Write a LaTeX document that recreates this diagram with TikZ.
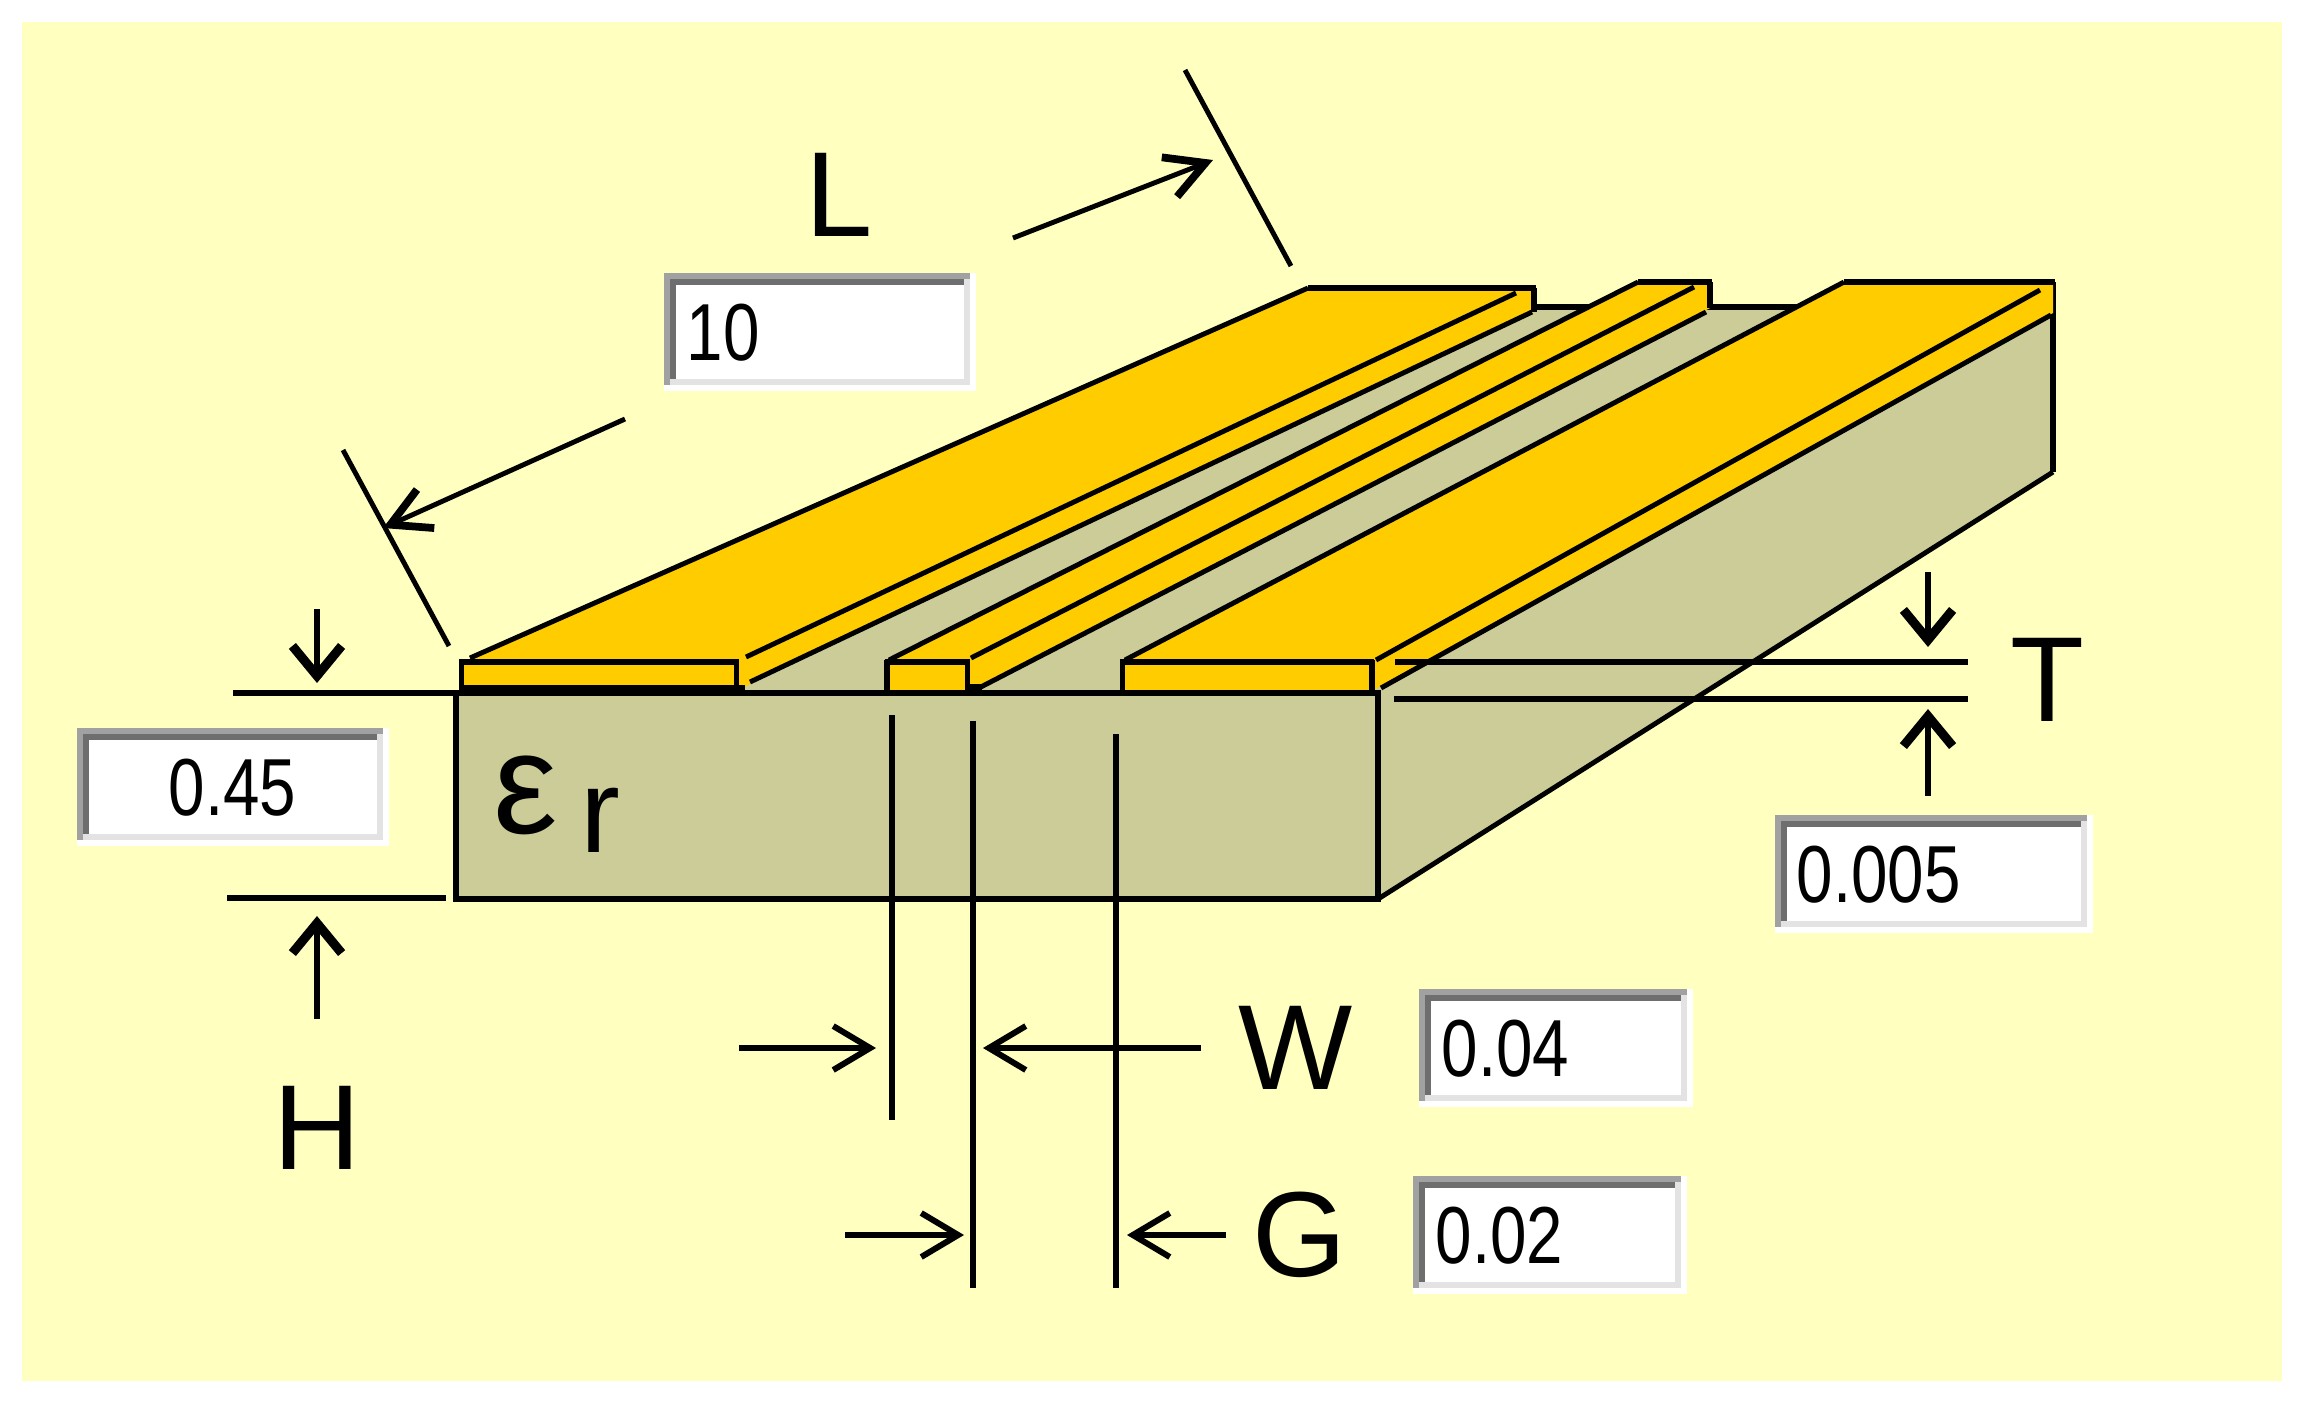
\documentclass[tikz,border=0pt]{standalone}
\usepackage{fontspec}
\setmainfont{Liberation Sans}
\usetikzlibrary{arrows.meta}

\definecolor{panelyellow}{HTML}{FFFFBF}
\definecolor{stripgold}{HTML}{FFCC00}
\definecolor{substrate}{HTML}{CCCC99}

\tikzset{
  hline/.style={line width=1.7pt},
  vline/.style={line width=1.6pt},
  dline/.style={line width=1.4pt},
  dimline/.style={line width=1.7pt,->},
  heavydim/.style={line width=1.7pt,-{Straight Barb[length=8.5pt,width=14pt,line width=2.6pt]}},
  slantdim/.style={line width=1.4pt,-{Straight Barb[length=11pt,width=12pt,line width=2.2pt]}},
  biglabel/.style={inner sep=0pt,anchor=base west,font=\fontsize{34.4pt}{36pt}\selectfont},
  numlabel/.style={inner sep=0pt,anchor=base west,font=\fontsize{23pt}{25pt}\selectfont},
}

% input field: name, x, y, width, text offset, text
\newcommand{\valuefield}[6]{
  \begin{scope}[shift={(#2,#3)}]
    \fill[white] (0,0) rectangle (#4,118);
    \fill[black!37] (0,0) rectangle (#4-6,112);
    \fill[black!11] (6,6) rectangle (#4-6,112);
    \fill[black!57] (6,6) rectangle (#4-12,106);
    \fill[white] (12,12) rectangle (#4-12,106);
    \node[numlabel] (#1) at (#5,87) {\scalebox{0.81}[1]{#6}};
  \end{scope}
}

\begin{document}
\begin{tikzpicture}[x=0.01cm,y=-0.01cm,>={Straight Barb[length=10.5pt,width=12.5pt,line width=1.7pt]}]

  \useasboundingbox (0,0) rectangle (2305,1411);
  \fill[white] (0,0) rectangle (2305,1411);
  \fill[panelyellow] (22,22) rectangle (2282,1381);

  % Substrate
  \fill[substrate] (700,693) -- (1500,307) -- (2053,307) -- (2053,472) -- (1378,899) -- (1378,693) -- cycle;
  \fill[substrate] (456,693) rectangle (1378,899);
  \draw[hline] (1536,307) -- (1804,307);
  \draw[vline] (2053,282) -- (2053,472);
  \draw[dline] (2053,472) -- (1378,899);

  % Strips
  \fill[stripgold] (461,662) -- (472,658) -- (1308,288) -- (1534,288) -- (1534,312) -- (750,684) -- (739,690) -- (461,690) -- cycle;
  \fill[stripgold] (887,662) -- (1638,282) -- (1710,282) -- (1710,308) -- (985,682) -- (970,690) -- (887,690) -- cycle;
  \fill[stripgold] (1122,662) -- (1844,282) -- (2053,282) -- (2053,313) -- (1381,686) -- (1374,690) -- (1122,690) -- cycle;

  % Left strip
  \draw[dline] (470,658) -- (1308,288);
  \draw[hline] (1308,288) -- (1536,288);
  \draw[vline] (1534,288) -- (1534,312);
  \draw[dline] (746,657) -- (1516,293);
  \draw[dline] (750,682) -- (1532,312);
  % Middle strip
  \draw[dline] (889,660) -- (1638,282);
  \draw[hline] (1638,282) -- (1712,282);
  \draw[vline] (1710,282) -- (1710,308);
  \draw[dline] (971,658) -- (1694,287);
  \draw[dline] (975,690) -- (1706,312);
  % Right strip
  \draw[dline] (1125,660) -- (1844,282);
  \draw[hline] (1844,282) -- (2055,282);
  \draw[dline] (1376,660) -- (2040,290);
  \draw[dline] (1381,688) -- (2051,315);

  % Front faces of the strips
  \fill (459,685) rectangle (745,696);
  \draw[vline] (461.5,660) -- (461.5,690);
  \draw[vline] (736.5,660) -- (736.5,690);
  \draw[hline] (459,662) -- (739,662);
  \draw[vline] (887,660) -- (887,690);
  \draw[vline] (967.5,660) -- (967.5,690);
  \draw[hline] (885,662) -- (970,662);
  \draw[vline] (1122.5,660) -- (1122.5,690);
  \draw[vline] (1372,660) -- (1372,690);
  \draw[hline] (1120,662) -- (1374,662);
  \fill (970,684) rectangle (982,696);

  % Front face of the substrate
  \coordinate (hTopEnd) at (233,693);
  \coordinate (hBotEnd) at (227,898);
  \draw[hline] (hTopEnd) -- (1381,693);
  \draw[hline] (453,899) -- (1381,899);
  \draw[hline] (hBotEnd) -- (446,898);
  \draw[vline] (456,693) -- (456,899);
  \draw[vline] (1378,693) -- (1378,899);

  \node[inner sep=0pt,anchor=base west] (epsr) at (493,833)
    {\fontsize{41pt}{44pt}\selectfont ε\hspace{6.5pt}\raisebox{-5.4pt}{\fontsize{34pt}{36pt}\selectfont r}};

  % Thickness T
  \draw[hline] (1395,662) -- (1968,662);
  \draw[hline] (1394,699) -- (1968,699);
  \coordinate (tDownA) at (1928,572);
  \coordinate (tDownB) at (1928,647);
  \coordinate (tUpA) at (1928,796);
  \coordinate (tUpB) at (1928,709);
  \draw[heavydim] (tDownA) -- (tDownB);
  \draw[heavydim] (tUpA) -- (tUpB);
  \node[biglabel] (labT) at (2010,721) {T};

  % Height H
  \coordinate (hDownA) at (317,609);
  \coordinate (hDownB) at (317,683);
  \coordinate (hUpA) at (317,1019);
  \coordinate (hUpB) at (317,916);
  \draw[heavydim] (hDownA) -- (hDownB);
  \draw[heavydim] (hUpA) -- (hUpB);
  \node[biglabel] (labH) at (273,1169) {H};

  % Length L
  \coordinate (lTickA) at (343,450);
  \coordinate (lTickB) at (449,646);
  \coordinate (lTickC) at (1185,70);
  \coordinate (lTickD) at (1291,266);
  \coordinate (lArrA) at (625,419);
  \coordinate (lArrB) at (383,528);
  \coordinate (lArrC) at (1013,238);
  \coordinate (lArrD) at (1213,160);
  \draw[dline] (lTickA) -- (lTickB);
  \draw[dline] (lTickC) -- (lTickD);
  \draw[slantdim] (lArrA) -- (lArrB);
  \draw[slantdim] (lArrC) -- (lArrD);
  \node[biglabel] (labL) at (805,236) {L};

  % Width and gap
  \coordinate (tickWa) at (892,715);
  \coordinate (tickWb) at (892,1120);
  \coordinate (tickGa) at (973,721);
  \coordinate (tickGb) at (973,1288);
  \coordinate (tickGc) at (1116,734);
  \coordinate (tickGd) at (1116,1288);
  \draw[vline] (tickWa) -- (tickWb);
  \draw[vline] (tickGa) -- (tickGb);
  \draw[vline] (tickGc) -- (tickGd);

  \coordinate (wArrA) at (739,1048);
  \coordinate (wArrB) at (876,1048);
  \coordinate (wArrC) at (1201,1048);
  \coordinate (wArrD) at (983,1048);
  \coordinate (gArrA) at (845,1235);
  \coordinate (gArrB) at (964,1235);
  \coordinate (gArrC) at (1226,1235);
  \coordinate (gArrD) at (1127,1235);
  \draw[dimline] (wArrA) -- (wArrB);
  \draw[dimline] (wArrC) -- (wArrD);
  \draw[dimline] (gArrA) -- (gArrB);
  \draw[dimline] (gArrC) -- (gArrD);
  \node[biglabel] (labW) at (1238,1089) {W};
  \node[biglabel] (labG) at (1252,1276) {G};

  % Value fields
  \valuefield{valL}{664}{273}{312}{22}{10}
  \valuefield{valH}{77}{728}{312}{91}{0.45}
  \valuefield{valT}{1775}{815}{318}{21}{0.005}
  \valuefield{valW}{1419}{989}{274}{22}{0.04}
  \valuefield{valG}{1413}{1176}{274}{22}{0.02}

\end{tikzpicture}
\end{document}
